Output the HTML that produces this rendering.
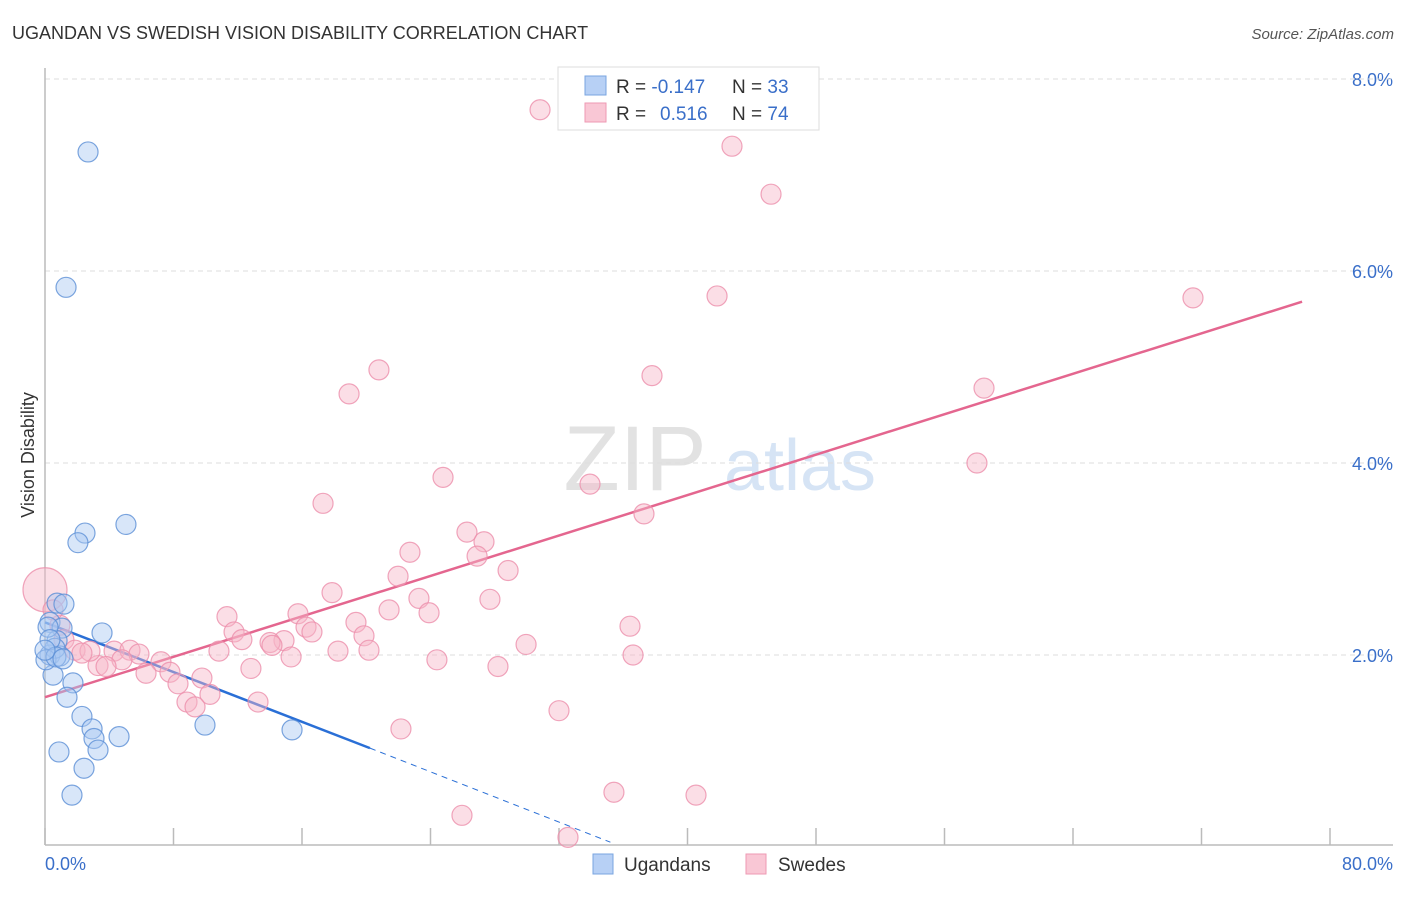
<!DOCTYPE html>
<html><head><meta charset="utf-8"><style>
body{margin:0;background:#fff;font-family:"Liberation Sans",sans-serif;}
svg text{font-family:"Liberation Sans",sans-serif;}
</style></head><body>
<svg width="1406" height="892" viewBox="0 0 1406 892">
<text x="12" y="39" font-size="18" fill="#333">UGANDAN VS SWEDISH VISION DISABILITY CORRELATION CHART</text>
<text x="1394" y="39" font-size="15" fill="#555" text-anchor="end" font-style="italic">Source: ZipAtlas.com</text>
<g>
<text x="635" y="490" font-size="92" fill="#e2e2e2" font-family="Liberation Serif" text-anchor="middle">ZIP</text>
<text x="800" y="490" font-size="72" fill="#d6e4f5" text-anchor="middle">atlas</text>
</g>
<g id="grid"></g>
<g id="axes"></g>
<g id="trends"></g>
<g id="pts"></g>
<text transform="translate(34,455) rotate(-90)" font-size="18" fill="#333" text-anchor="middle">Vision Disability</text>
<text x="45" y="870" font-size="18" fill="#3a6fc9">0.0%</text>
<text x="1393" y="870" font-size="18" fill="#3a6fc9" text-anchor="end">80.0%</text>
<g>
<rect x="558" y="67" width="261" height="63" fill="#fff" stroke="#ddd"/>
<rect x="585" y="76" width="21" height="19" fill="#b7d0f5" stroke="#7aa5e0"/>
<rect x="585" y="103" width="21" height="19" fill="#f9c7d5" stroke="#ee9ab3"/>
<text x="616" y="93" font-size="19" fill="#333">R = <tspan fill="#3a6fc9">-0.147</tspan></text>
<text x="732" y="93" font-size="19" fill="#333">N = <tspan fill="#3a6fc9">33</tspan></text>
<text x="616" y="120" font-size="19" fill="#333">R = <tspan fill="#3a6fc9" x="660">0.516</tspan></text>
<text x="732" y="120" font-size="19" fill="#333">N = <tspan fill="#3a6fc9">74</tspan></text>
</g>
<g>
<rect x="593" y="854" width="20" height="20" fill="#b7d0f5" stroke="#7aa5e0"/>
<text x="624" y="871" font-size="19" fill="#333">Ugandans</text>
<rect x="746" y="854" width="20" height="20" fill="#f9c7d5" stroke="#ee9ab3"/>
<text x="778" y="871" font-size="19" fill="#333">Swedes</text>
</g>
</svg>
<script>
const yTicks=[2,4,6,8];
const yTickLabels=["2.0%","4.0%","6.0%","8.0%"];
const xTicks=[0,8,16,24,32,40,48,56,64,72,80];
const ugX=[2.68,1.31,5.04,2.49,2.05,0.75,1.18,0.31,3.55,1.06,0.75,0.31,0.93,0.62,0.50,1.74,1.37,2.30,2.93,3.05,4.61,0.87,3.30,2.43,1.68,9.96,15.38,0.19,0.06,0.31,0.68,0,1.12];
const ugY=[7.24,5.83,3.36,3.27,3.17,2.54,2.53,2.34,2.23,2.28,2.15,2.00,1.99,2.07,1.79,1.71,1.56,1.36,1.23,1.13,1.15,0.99,1.01,0.82,0.54,1.27,1.22,2.29,1.95,2.16,1.98,2.05,1.96];
const swX=[30.82,42.77,45.20,41.84,71.47,20.79,37.79,18.93,58.46,58.02,24.78,33.93,17.31,37.29,26.27,27.33,22.72,26.90,28.83,21.98,17.87,23.28,27.70,21.42,15.75,23.91,11.33,19.36,36.42,11.77,16.25,16.62,19.86,14.88,12.26,14.01,14.13,29.95,15.32,18.24,20.17,10.83,24.40,36.61,4.30,5.29,5.85,4.79,7.22,12.82,3.30,3.80,7.78,6.29,9.77,8.28,10.27,8.84,9.34,13.26,32.00,22.16,28.20,35.42,40.53,25.96,32.56,0.0,0.93,1.18,1.87,2.80,0.50,2.30];
const swY=[7.68,7.30,6.80,5.74,5.72,4.97,4.91,4.72,4.78,4.00,3.85,3.78,3.58,3.47,3.28,3.18,3.07,3.03,2.88,2.82,2.65,2.59,2.58,2.47,2.43,2.44,2.40,2.34,2.30,2.24,2.29,2.24,2.20,2.15,2.16,2.13,2.10,2.11,1.98,2.04,2.05,2.04,1.95,2.00,2.04,2.05,2.01,1.95,1.93,1.86,1.89,1.88,1.82,1.81,1.76,1.70,1.59,1.51,1.46,1.51,1.42,1.23,1.88,0.57,0.54,0.33,0.10,2.68,2.31,2.16,2.05,2.04,2.47,2.02];
const swR=[10,10,10,10,10,10,10,10,10,10,10,10,10,10,10,10,10,10,10,10,10,10,10,10,10,10,10,10,10,10,10,10,10,10,10,10,10,10,10,10,10,10,10,10,10,10,10,10,10,10,10,10,10,10,10,10,10,10,10,10,10,10,10,10,10,10,10,22,10,10,10,10,10,10];
const ugTrend=[[0,2.34],[20.23,1.03]];
const ugTrendDash=[[20.23,1.03],[35.2,0.05]];
const swTrend=[[0,1.56],[78.26,5.68]];
const NS="http://www.w3.org/2000/svg";
const X=v=>45+v*(1285/80), Y=v=>847-v*96;
function mk(t,a,p){const e=document.createElementNS(NS,t);for(const k in a)e.setAttribute(k,a[k]);p.appendChild(e);return e;}
const grid=document.getElementById('grid'),axes=document.getElementById('axes'),tr=document.getElementById('trends'),pts=document.getElementById('pts');
yTicks.forEach((v,i)=>{
 const l=mk('line',{x1:45,x2:1393,y1:Y(v),y2:Y(v),stroke:'#ddd','stroke-dasharray':'5,4'},grid);
 
 
 const t=mk('text',{x:1393,y:Y(v)+7,'font-size':18,fill:'#3a6fc9','text-anchor':'end'},grid);
 t.textContent=yTickLabels[i];
 
 
});
const tg=mk('line',{x1:45,x2:1393,y1:Y(8),y2:Y(8),stroke:'#ddd','stroke-dasharray':'5,4'},grid);
const ax=mk('line',{x1:45,x2:1393,y1:845,y2:845,stroke:'#bbb','stroke-width':1.5},axes);


const ay=mk('line',{x1:45,x2:45,y1:68,y2:845,stroke:'#bbb','stroke-width':1.5},axes);


xTicks.forEach(v=>{const t=mk('line',{x1:X(v),x2:X(v),y1:828,y2:845,stroke:'#bbb','stroke-width':1.5},axes);
 
 });
function dot(x,y,r,f,s,n){const c=mk('circle',{cx:X(x),cy:Y(y),r:r,fill:f,'fill-opacity':0.45,stroke:s,'stroke-opacity':0.8,'stroke-width':1.2},pts);
 
 }
swX.forEach((x,i)=>dot(x,swY[i],swR[i],'#f7b6c8','#ec8fab','swede-point'));
ugX.forEach((x,i)=>dot(x,ugY[i],10,'#a9c8f2','#5b8fd6','ugandan-point'));
function ln(p,col,w,dash,n){const a={x1:X(p[0][0]),y1:Y(p[0][1]),x2:X(p[1][0]),y2:Y(p[1][1]),stroke:col,'stroke-width':w};if(dash)a['stroke-dasharray']=dash;const l=mk('line',a,tr);
 
 }
ln(swTrend,'#e4668f',2.5,null,'swedes-trendline');
ln(ugTrend,'#2a6fd6',2.5,null,'ugandans-trendline');
ln(ugTrendDash,'#2a6fd6',1,'6,5','ugandans-trendline-extension');
</script>
</body></html>
